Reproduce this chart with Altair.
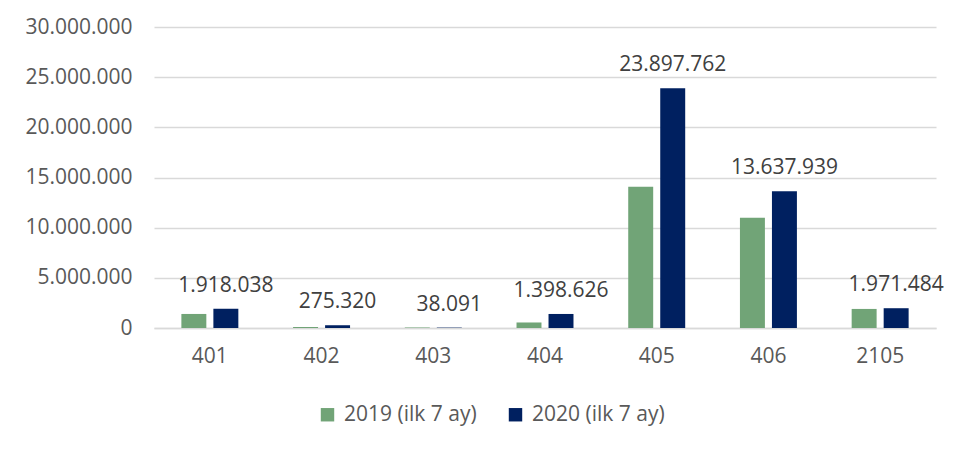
import altair as alt
import pandas as pd

categories = ["401", "402", "403", "404", "405", "406", "2105"]
series = ["2019 (ilk 7 ay)", "2020 (ilk 7 ay)"]
values_2019 = [1400000, 100000, 50000, 550000, 14070000, 10980000, 1900000]
values_2020 = [1918038, 275320, 38091, 1398626, 23897762, 13637939, 1971484]
y_ticks = [0, 5000000, 10000000, 15000000, 20000000, 25000000, 30000000]
colors = ["#71A477", "#002060"]

rows = []
for c, a, b in zip(categories, values_2019, values_2020):
    rows.append({"cat": c, "series": series[0], "value": a, "label": ""})
    rows.append({"cat": c, "series": series[1], "value": b,
                 "label": f"{b:,}".replace(",", ".")})
df = pd.DataFrame(rows)

FONT = "Open Sans"

x = alt.X("cat:N", sort=categories, title=None,
          scale=alt.Scale(paddingInner=0.49, paddingOuter=0.245),
          axis=alt.Axis(labelAngle=0, labelFontSize=21, labelColor="#595959",
                        labelPadding=17, ticks=False, domainColor="#D9D9D9",
                        domainWidth=1.3, grid=False, labelFont=FONT))
xo = alt.XOffset("series:N", sort=series,
                 scale=alt.Scale(domain=series, paddingInner=0.22, paddingOuter=0))
y = alt.Y("value:Q", title=None,
          scale=alt.Scale(domain=[0, 30000000], nice=False),
          axis=alt.Axis(values=y_ticks, labelFontSize=21, labelColor="#595959",
                        labelPadding=22, ticks=False, domain=False,
                        gridColor="#D9D9D9", gridWidth=1.3, labelFont=FONT,
                        labelExpr="replace(replace(datum.label, ',', '.'), ',', '.')"))

bars = alt.Chart(df).mark_bar().encode(
    x=x, xOffset=xo, y=y,
    color=alt.Color("series:N", sort=series,
                    scale=alt.Scale(domain=series, range=colors),
                    legend=alt.Legend(title=None, orient="none", direction="horizontal",
                                      legendX=163, legendY=377,
                                      symbolType="square", symbolSize=180,
                                      symbolStrokeWidth=0, labelFontSize=21,
                                      labelColor="#595959", labelFont=FONT,
                                      labelOffset=6, columnPadding=28,
                                      labelLimit=400)),
)

text = alt.Chart(df).transform_filter(
    alt.datum.series == series[1]
).mark_text(baseline="alphabetic", dy=-17, fontSize=21, color="#404040",
            font=FONT).encode(
    x=x, xOffset=xo, y=y, text="label:N"
)

chart = alt.layer(bars, text).properties(
    width=782, height=301,
    autosize="none",
    padding={"left": 146, "top": 19, "right": 11, "bottom": 114},
).configure(font=FONT).configure_view(stroke=None, strokeWidth=0)

chart.save("out.html", embed_options={"renderer": "svg", "actions": False})
